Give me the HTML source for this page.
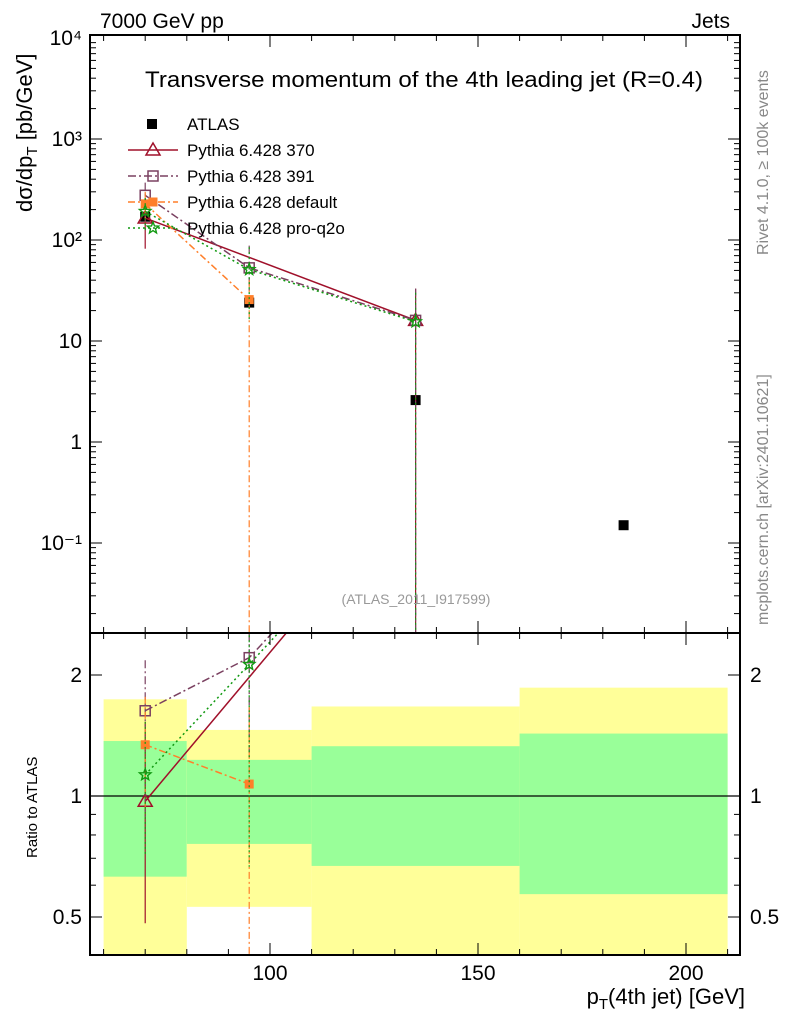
<!DOCTYPE html>
<html><head><meta charset="utf-8"><style>
html,body{margin:0;background:#fff;overflow:hidden;width:786px;height:1024px}
svg{display:block;font-family:"Liberation Sans",sans-serif}
</style></head><body>
<svg id="c" width="786" height="1024" viewBox="0 0 786 1024"></svg>
<script>
const xCenters=[70,95,135,185];
const binEdges=[60,80,110,160,210];
const atlas=[170,24,2.6,0.15];
const atlasErrLo=[165,22,2.5,0.14];
const atlasErrHi=[175,26,2.7,0.16];
const p370=[165,null,16];
const p370Lo=[82,null,0.001];
const p370Hi=[260,null,33];
const p391=[277,53,16];
const p391Lo=[150,30,0.001];
const p391Hi=[370,88,33];
const pDef=[228,25.7,null];
const pDefLo=[150,0.001,null];
const pDefHi=[300,40,null];
const pQ2o=[192,51,15.5];
const pQ2oLo=[120,16,0.001];
const pQ2oHi=[260,85,30];
const yellowHi=[1.74,1.46,1.67,1.86];
const yellowLo=[0.3,0.53,0.3,0.3];
const greenHi=[1.37,1.23,1.33,1.43];
const greenLo=[0.63,0.76,0.67,0.57];
const xTicks=[100,150,200];
const mainTickLabels=["10\u207B\u00B9","1","10","10\u00B2","10\u00B3","10\u2074"];
const ratioTicks=[0.5,1,2];

const L=90,R=740,T=35,MB=633,RB=955;
const X=v=>270+(v-100)*4.16;
const YM=v=>442-Math.log10(v)*101;
const YR=v=>796-Math.log10(v)/0.301*121;
const svg=document.getElementById('c');
const NS='http://www.w3.org/2000/svg';
function el(t,a,p){const e=document.createElementNS(NS,t);for(const k in a)e.setAttribute(k,a[k]);(p||svg).appendChild(e);return e;}
function clip(id,y0,y1){const cp=el('clipPath',{id});el('rect',{x:L,y:y0,width:R-L,height:y1-y0},cp);}
clip('cm',T,MB);clip('cr',MB,RB);
const gm=el('g',{'clip-path':'url(#cm)'});
const gr=el('g',{'clip-path':'url(#cr)'});

for(let i=0;i<4;i++){
 const x0=X(binEdges[i]),x1=X(binEdges[i+1]);
 const y=el('rect',{x:x0,y:YR(yellowHi[i]),width:x1-x0,height:Math.min(YR(yellowLo[i]),RB)-YR(yellowHi[i]),fill:'#ffff99'},gr);
 
 const g=el('rect',{x:x0,y:YR(greenHi[i]),width:x1-x0,height:YR(greenLo[i])-YR(greenHi[i]),fill:'#99ff99'},gr);
 
}
el('line',{x1:L,x2:R,y1:YR(1),y2:YR(1),stroke:'#000','stroke-width':1.3},gr);

atlas.forEach((v,i)=>{
 el('line',{x1:X(xCenters[i]),x2:X(xCenters[i]),y1:YM(atlasErrHi[i]),y2:YM(atlasErrLo[i]),stroke:'#000'},gm);
 const r=el('rect',{x:X(xCenters[i])-5,y:YM(v)-5,width:10,height:10,fill:'#000'},gm);
 
});

const series=[
 {name:'pythia-370',v:p370,lo:p370Lo,hi:p370Hi,c:'#a0102a',dash:'',m:'tri'},
 {name:'pythia-391',v:p391,lo:p391Lo,hi:p391Hi,c:'#7a4060',dash:'8,3,2,3',m:'sq'},
 {name:'pythia-default',v:pDef,lo:pDefLo,hi:pDefHi,c:'#ff7f2a',dash:'7,3,2,3',m:'fsq'},
 {name:'pythia-pro-q2o',v:pQ2o,lo:pQ2oLo,hi:pQ2oHi,c:'#119911',dash:'2,3',m:'star'}
];
function marker(g,m,x,y,c){
 let e;
 if(m==='tri')e=el('path',{d:`M${x},${y-7}L${x+7},${y+5}L${x-7},${y+5}Z`,fill:'none',stroke:c,'stroke-width':1.5},g);
 else if(m==='sq')e=el('rect',{x:x-5,y:y-5,width:10,height:10,fill:'none',stroke:c,'stroke-width':1.5},g);
 else if(m==='fsq')e=el('rect',{x:x-4.5,y:y-4.5,width:9,height:9,fill:c},g);
 else{let d='';for(let k=0;k<10;k++){const a=-Math.PI/2+k*Math.PI/5,r=k%2?2.6:6;d+=(k?'L':'M')+(x+r*Math.cos(a)).toFixed(1)+','+(y+r*Math.sin(a)).toFixed(1);}e=el('path',{d:d+'Z',fill:'none',stroke:c,'stroke-width':1.4},g);}
 return e;
}
series.forEach(s=>{
 [['main',gm,YM,MB],['ratio',gr,YR,RB]].forEach(([kind,g,Y,bot])=>{
  const pts=[];
  s.v.forEach((v,i)=>{if(v==null)return;
   const den=kind==='ratio'?atlas[i]:1;
   pts.push([X(xCenters[i]),Y(v/den),Y(s.lo[i]/den),Y(s.hi[i]/den)]);});
  const pl=el('polyline',{points:pts.map(p=>p[0]+','+p[1]).join(' '),fill:'none',stroke:s.c,'stroke-width':1.5,'stroke-dasharray':s.dash},g);
  
  pts.forEach(p=>{
   if(kind==='ratio'&&p[1]<MB-20)return;
   el('line',{x1:p[0],x2:p[0],y1:p[3],y2:Math.min(p[2],bot),stroke:s.c,'stroke-width':1.2,'stroke-dasharray':s.dash},g);
   const mk=marker(g,s.m,p[0],p[1],s.c);
   
  });
 });
});

el('rect',{x:L,y:T,width:R-L,height:MB-T,fill:'none',stroke:'#000','stroke-width':2});
el('rect',{x:L,y:MB,width:R-L,height:RB-MB,fill:'none',stroke:'#000','stroke-width':2});
function txt(s,x,y,a){const t=el('text',Object.assign({x,y,'font-size':21,fill:'#000'},a||{}));t.textContent=s;return t;}
for(let v=60;v<=210;v+=10){const big=v%50===0;const h=big?12:6;
 [T,MB,RB].forEach((yy,k)=>{
  if(k!==0)el('line',{x1:X(v),x2:X(v),y1:yy,y2:yy-h,stroke:'#000'});
  if(k!==2)el('line',{x1:X(v),x2:X(v),y1:yy,y2:yy+h,stroke:'#000'});
 });}
xTicks.forEach(v=>{const t=txt(v,X(v),980,{'text-anchor':'middle'});});
for(let e=-2;e<4;e++){for(let m=1;m<10;m++){const v=m*Math.pow(10,e);const y=YM(v);if(y<T||y>MB)continue;const h=m===1?12:6;
 el('line',{x1:L,x2:L+h,y1:y,y2:y,stroke:'#000'});el('line',{x1:R,x2:R-h,y1:y,y2:y,stroke:'#000'});}}
mainTickLabels.forEach((s,i)=>{const t=txt(s,82,YM(Math.pow(10,i-1))+7,{'text-anchor':'end'});});
[0.5,0.6,0.7,0.8,0.9,1,2].forEach(v=>{const y=YR(v);const h=(v===0.5||v===1||v===2)?12:6;
 el('line',{x1:L,x2:L+h,y1:y,y2:y,stroke:'#000'});el('line',{x1:R,x2:R-h,y1:y,y2:y,stroke:'#000'});});
ratioTicks.forEach(v=>{txt(v,82,YR(v)+7,{'text-anchor':'end'});txt(v,750,YR(v)+7);});
txt('7000 GeV pp',100,28);
txt('Jets',730,28,{'text-anchor':'end'});
txt('Transverse momentum of the 4th leading jet (R=0.4)',145,87,{'font-size':22,textLength:558,lengthAdjust:'spacingAndGlyphs'});
txt('(ATLAS_2011_I917599)',416,604,{'text-anchor':'middle','font-size':14,fill:'#999'});
const yl=txt('',0,0,{transform:'translate(32,212) rotate(-90)','font-size':22});yl.innerHTML='dσ/dp<tspan font-size="15" dy="5">T</tspan><tspan dy="-5"> [pb/GeV]</tspan>';

const rl=txt('Ratio to ATLAS',0,0,{transform:'translate(37,858) rotate(-90)','font-size':15});
const xl=txt('',745,1004,{'text-anchor':'end','font-size':22});xl.innerHTML='p<tspan font-size="15" dy="5">T</tspan><tspan dy="-5">(4th jet) [GeV]</tspan>';

txt('Rivet 4.1.0, ≥ 100k events',0,0,{transform:'translate(768,255) rotate(-90)','font-size':16,fill:'#888'});
txt('mcplots.cern.ch [arXiv:2401.10621]',0,0,{transform:'translate(768,625) rotate(-90)','font-size':16,fill:'#888'});
const leg=[['ATLAS','#000','','atlas'],['Pythia 6.428 370','#a0102a','','tri'],['Pythia 6.428 391','#7a4060','8,3,2,3','sq'],['Pythia 6.428 default','#ff7f2a','7,3,2,3','fsq'],['Pythia 6.428 pro-q2o','#119911','2,3','star']];
leg.forEach((l,i)=>{const y=124+i*26;const g=el('g',{});
 if(l[3]==='atlas')el('rect',{x:147,y:y-5,width:10,height:10,fill:'#000'},g);
 else{el('line',{x1:128,x2:178,y1:y,y2:y,stroke:l[1],'stroke-width':1.5,'stroke-dasharray':l[2]},g);marker(g,l[3],153,y,l[1]);}
 const t=el('text',{x:187,y:y+6,'font-size':17},g);t.textContent=l[0];});
</script>
</body></html>
